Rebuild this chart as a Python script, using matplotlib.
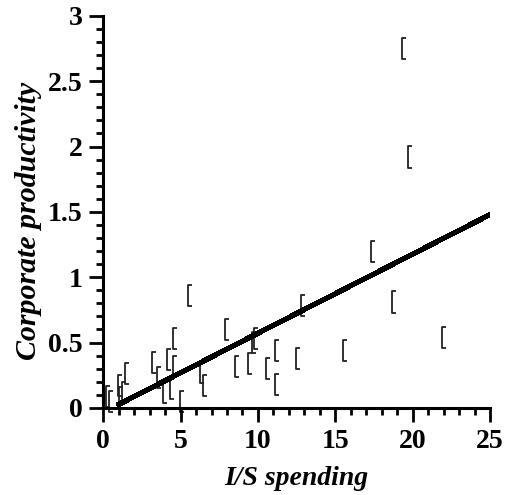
import matplotlib.pyplot as plt
from matplotlib.path import Path
import numpy as np

plt.rcParams['font.family'] = 'Liberation Serif'

# scatter points (I/S spending, productivity)
spend = [0.32, 0.52, 1.1, 1.15, 1.35, 1.55, 3.3, 3.6, 4.0, 4.25, 4.45, 4.65, 4.65,
         5.1, 5.6, 6.4, 6.6, 8.0, 8.65, 9.5, 9.75, 9.85, 10.65, 11.2, 11.2,
         12.6, 12.9, 15.6, 17.4, 18.8, 19.45, 19.8, 22.0]
prod = [0.09, 0.05, 0.17, 0.08, 0.12, 0.26, 0.35, 0.23, 0.12, 0.37, 0.15, 0.53, 0.32,
        0.05, 0.86, 0.27, 0.17, 0.60, 0.32, 0.34, 0.50, 0.53, 0.30, 0.44, 0.18,
        0.38, 0.78, 0.44, 1.20, 0.81, 2.75, 1.92, 0.54]

# fitted line end points
fit_x = [0.9, 25]
fit_y = [0.02, 1.48]

# "[" shaped marker
bracket = Path([(0.2, 1), (-0.19, 1), (-0.19, -1), (0.2, -1)],
               [Path.MOVETO, Path.LINETO, Path.LINETO, Path.LINETO])

fig = plt.figure(figsize=(5.08, 4.95), dpi=100)
ax = fig.add_axes([0.203, 0.176, 0.762, 0.792])

ax.scatter(spend, prod, marker=bracket, s=230, facecolors='none',
           edgecolors='#222222', linewidths=1.3, clip_on=False)
ax.plot(fit_x, fit_y, '-k', lw=3, antialiased=False, solid_capstyle='butt')

ax.set_xlim(0, 25)
ax.set_ylim(0, 3)
ax.set_xticks(np.arange(0, 26, 5))
ax.set_xticks(np.arange(0, 26, 1), minor=True)
ax.set_yticks([0, 0.5, 1, 1.5, 2, 2.5, 3])
ax.set_yticklabels(['0', '0.5', '1', '1.5', '2', '2.5', '3'])
ax.set_yticks(np.arange(0, 3.01, 0.1), minor=True)

for s in ['top', 'right']:
    ax.spines[s].set_visible(False)
for s in ['left', 'bottom']:
    ax.spines[s].set_linewidth(2.2)

ax.tick_params(which='major', direction='out', length=10, width=2, labelsize=20, pad=5)
ax.tick_params(which='minor', direction='out', length=5, width=2)
for lab in ax.get_xticklabels() + ax.get_yticklabels():
    lab.set_fontweight('bold')

ax.set_xlabel('I/S spending', fontsize=20, fontweight='bold', fontstyle='italic', labelpad=9)
ax.set_ylabel('Corporate productivity', fontsize=21.5, fontweight='bold', fontstyle='italic')
ax.yaxis.set_label_coords(-0.157, 0.476)

fig.savefig('out.png', dpi=100)
